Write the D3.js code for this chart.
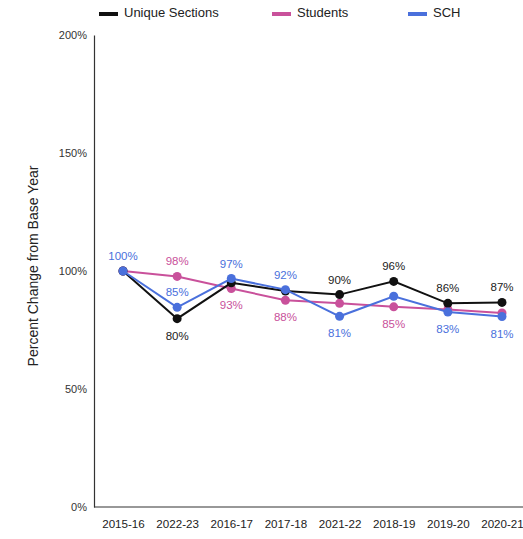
<!DOCTYPE html>
<html>
<head>
<meta charset="utf-8">
<script src="https://cdn.jsdelivr.net/npm/d3@7/dist/d3.min.js"></script>
<style>
  html, body { margin: 0; padding: 0; background: #fff; }
  svg { display: block; font-family: "Liberation Sans", Arial, Helvetica, sans-serif; }
</style>
</head>
<body>
<svg id="chart" width="523" height="539"></svg>
<script>
// Academic years, in the order they are plotted
const years = ["2015-16", "2022-23", "2016-17", "2017-18", "2021-22", "2018-19", "2019-20", "2020-21"];

// Percent of base year (2015-16 = 100)
const uniqueSections = [100, 79.8, 95.0, 91.5, 90.0, 95.6, 86.3, 86.7];
const students       = [100, 97.7, 92.6, 87.6, 86.3, 84.8, 83.7, 82.2];
const sch            = [100, 84.6, 96.8, 92.1, 80.8, 89.3, 82.6, 80.7];

// Which data labels are shown, and on which side of the point
const sectionsLabels = [null, "below", null, null, "above", "above", "above", "above"];
const studentsLabels = [null, "above", "below", "below", null, "below", null, null];
const schLabels      = ["above", "above", "above", "above", "below", null, "below", "below"];

const yTicks = [0, 50, 100, 150, 200];

const series = [
  { name: "Unique Sections", values: uniqueSections, labels: sectionsLabels, color: "#111111", text: "#222222" },
  { name: "Students",        values: students,       labels: studentsLabels, color: "#c9519b", text: "#c9519b" },
  { name: "SCH",             values: sch,            labels: schLabels,      color: "#4a70dc", text: "#4a70dc" }
];

const svg = d3.select("#chart");
const plotLeft = 94, plotRight = 523, plotTop = 35, plotBottom = 507;

const x = d3.scalePoint().domain(years).range([123, 502]);
const y = d3.scaleLinear().domain([0, 200]).range([plotBottom, plotTop]);

// Y axis
const yAxis = svg.append("g")
  .attr("transform", `translate(${plotLeft},0)`)
  .call(d3.axisLeft(y).tickValues(yTicks).tickFormat(d => d + "%").tickSize(0).tickPadding(7));
yAxis.select(".domain").attr("stroke", "#333").attr("stroke-width", 1.2);
yAxis.selectAll("text").attr("font-size", 11).attr("fill", "#333");

// X axis
svg.append("line")
  .attr("x1", plotLeft).attr("x2", plotRight)
  .attr("y1", plotBottom).attr("y2", plotBottom)
  .attr("stroke", "#333").attr("stroke-width", 1.2);
const xAxis = svg.append("g")
  .attr("transform", `translate(0,${plotBottom})`)
  .call(d3.axisBottom(x).tickSize(0).tickPadding(13));
xAxis.select(".domain").remove();
xAxis.selectAll("text").attr("font-size", 11.6).attr("fill", "#222");

// Y axis title
svg.append("text")
  .attr("transform", `translate(34,${(plotTop + plotBottom) / 2 - 5}) rotate(-90)`)
  .attr("text-anchor", "middle")
  .attr("dominant-baseline", "middle")
  .attr("font-size", 14)
  .attr("fill", "#222")
  .text("Percent Change from Base Year");

// Lines and points
const line = d3.line().x((d, i) => x(years[i])).y(d => y(d));
const order = [1, 0, 2];
order.forEach(k => {
  const s = series[k];
  const g = svg.append("g");
  g.append("path")
    .datum(s.values)
    .attr("d", line)
    .attr("fill", "none")
    .attr("stroke", s.color)
    .attr("stroke-width", 2);
  g.selectAll("circle")
    .data(s.values)
    .join("circle")
    .attr("cx", (d, i) => x(years[i]))
    .attr("cy", d => y(d))
    .attr("r", 4.5)
    .attr("fill", s.color);
});

// Data labels
series.forEach(s => {
  s.values.forEach((v, i) => {
    const side = s.labels[i];
    if (!side) return;
    svg.append("text")
      .attr("x", x(years[i]))
      .attr("y", y(v) + (side === "above" ? -14 : 18))
      .attr("text-anchor", "middle")
      .attr("dominant-baseline", "middle")
      .attr("font-size", 11.5)
      .attr("fill", s.text)
      .text(Math.round(v) + "%");
  });
});

// Legend
const legendX = [99, 272, 408];
series.forEach((s, i) => {
  const g = svg.append("g").attr("transform", `translate(${legendX[i]},14)`);
  g.append("line")
    .attr("x1", 0).attr("x2", 19).attr("y1", 0).attr("y2", 0)
    .attr("stroke", s.color).attr("stroke-width", 4);
  g.append("text")
    .attr("x", 25).attr("y", 0)
    .attr("dominant-baseline", "middle")
    .attr("font-size", 13)
    .attr("fill", "#222")
    .text(s.name);
});
</script>
</body>
</html>
